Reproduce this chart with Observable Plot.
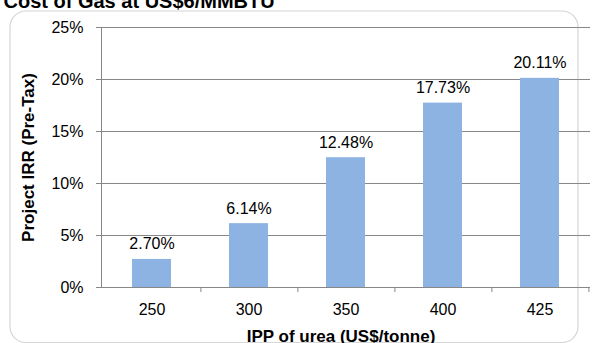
<!DOCTYPE html>
<html>
<head>
<meta charset="utf-8">
<script src="https://cdn.jsdelivr.net/npm/d3@7"></script>
<script src="https://cdn.jsdelivr.net/npm/@observablehq/plot@0.6"></script>
<style>
  html, body { margin: 0; padding: 0; background: #fff; }
  #chart svg { display: block; }
</style>
</head>
<body>
<div id="chart"></div>
<script>
const title = "Cost of Gas at US$6/MMBTU";
const categories = ["250", "300", "350", "400", "425"];
const values = [0.0270, 0.0614, 0.1248, 0.1773, 0.2011];
const valueLabels = ["2.70%", "6.14%", "12.48%", "17.73%", "20.11%"];
const yTicks = [0, 0.05, 0.10, 0.15, 0.20, 0.25];
const xLabel = "IPP of urea (US$/tonne)";
const yLabel = "Project IRR (Pre-Tax)";

const data = categories.map((c, i) => ({cat: c, v: values[i], label: valueLabels[i]}));

const W = 604, H = 343;
const ml = 101, mr = 14, mt = 27, mb = 56;
const step = (W - ml - mr) / categories.length;
const gray = "#878787";
const font = "Liberation Sans, Arial, sans-serif";

const chart = Plot.plot({
  width: W,
  height: H,
  marginLeft: ml,
  marginRight: mr,
  marginTop: mt,
  marginBottom: mb,
  style: {fontFamily: font, fontSize: "16px", color: "#000", background: "#fff", overflow: "visible"},
  x: {type: "band", domain: categories, paddingInner: 0.6, paddingOuter: 0.3},
  y: {domain: [0, 0.25]},
  marks: [
    Plot.frame({stroke: "#d6d6d6", strokeWidth: 1.2, rx: 16, insetLeft: -(ml - 9.5), insetTop: -(mt - 10.5), insetRight: -(W - mr - 602.5) , insetBottom: -(mb - 1)}),
    Plot.gridY(yTicks.filter(d => d > 0), {stroke: gray, strokeOpacity: 1, strokeWidth: 1}),
    Plot.barY(data, {x: "cat", y: "v", fill: "#8DB3E2"}),
    Plot.ruleY([0], {stroke: gray, strokeWidth: 1}),
    Plot.frame({anchor: "left", stroke: gray, strokeWidth: 1}),
    Plot.axisY({ticks: yTicks, tickFormat: d3.format(".0%"), tickSize: 5, tickPadding: 13, stroke: gray, fontSize: 16,
      label: yLabel, labelAnchor: "center", labelArrow: "none", labelOffset: 80}),
    Plot.axisX({tickSize: 0, tickPadding: 16, fontSize: 16, label: null}),
    Plot.axisX({tickSize: 5, tickFormat: null, dx: step / 2, stroke: gray, label: null}),
    Plot.text([xLabel], {frameAnchor: "bottom", dy: 54, dx: -5, fontWeight: "bold", fontSize: 17, lineAnchor: "bottom"}),
    Plot.text(data, {x: "cat", y: "v", text: "label", dy: -10, lineAnchor: "bottom", fontSize: 16, fill: "#000"}),
    Plot.text([title], {frameAnchor: "top-left", dx: -(ml - 3), dy: -(mt - 7), textAnchor: "start", lineAnchor: "bottom", fontWeight: "bold", fontSize: 20})
  ]
});

// style the y-axis label bold
d3.select(chart).selectAll("g[aria-label='y-axis label'] text").attr("font-weight", "bold").attr("font-size", 17);
document.getElementById("chart").appendChild(chart);
</script>
</body>
</html>
